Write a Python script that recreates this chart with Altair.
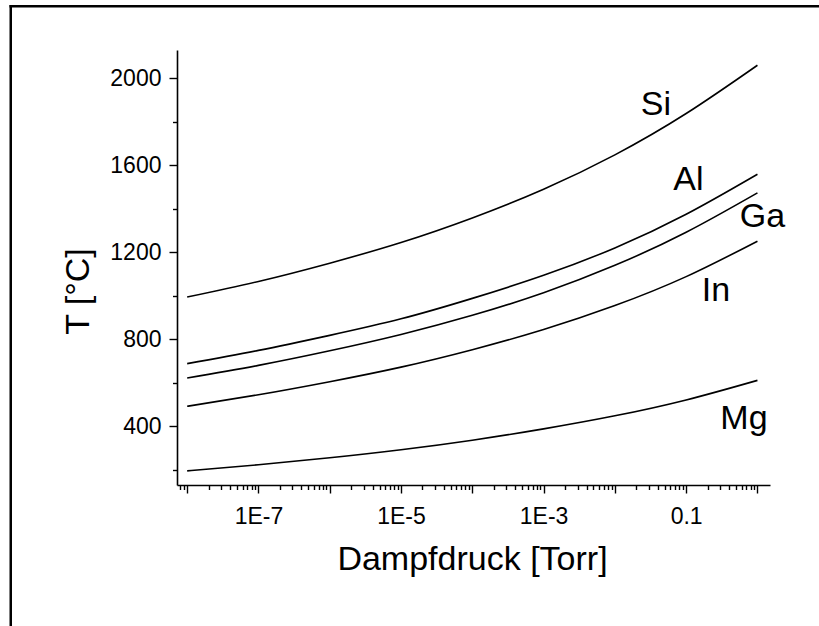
import altair as alt
import pandas as pd

# ---- data ----
pressure = [1e-8, 1e-7, 1e-6, 1e-5, 1e-4, 1e-3, 1e-2, 1e-1, 1.0]
t_si = [994, 1066, 1150, 1245, 1358, 1490, 1648, 1838, 2060]
t_al = [688, 749, 818, 894, 988, 1094, 1220, 1375, 1559]
t_ga = [622, 680, 747, 822, 910, 1014, 1140, 1292, 1473]
t_in = [492, 545, 605, 672, 752, 845, 955, 1088, 1251]
t_mg = [195, 223, 255, 292, 336, 388, 448, 521, 611]

elements = ["Si", "Al", "Ga", "In", "Mg"]
label_p = [0.0376, 0.1076, 1.175, 0.262, 0.647]
label_t = [1830, 1485, 1316, 977, 386]

x_domain = [7.2e-9, 1.5]
y_domain = [130, 2130]

x_ticks = sorted(set(
    [k * 10.0 ** e for e in range(-9, 1) for k in range(1, 10)]
))
x_ticks = [v for v in x_ticks if x_domain[0] <= v <= x_domain[1]]
y_ticks = list(range(200, 2001, 200))

# ---- tables ----
series = {"Si": t_si, "Al": t_al, "Ga": t_ga, "In": t_in, "Mg": t_mg}
rows = []
for name, temps in series.items():
    for p, t in zip(pressure, temps):
        rows.append({"element": name, "p": p, "T": t})
df = pd.DataFrame(rows)
labels_df = pd.DataFrame({"element": elements, "p": label_p, "T": label_t})
frame_df = pd.DataFrame({"k": [0]})

FONT = "Liberation Sans"
is_decade = "abs(log(datum.value)/LN10 - round(log(datum.value)/LN10)) < 0.001"
expo = "round(log(datum.value)/LN10)"

x_scale = alt.Scale(type="log", domain=x_domain, nice=False)
y_scale = alt.Scale(domain=y_domain, nice=False, zero=False)

common_axis = dict(
    labelOverlap=False,
    labelFlush=False,
    labelBound=False,
    labelFontSize=23,
    labelFont=FONT,
    labelColor="black",
    titleFont=FONT,
    titleFontSize=34,
    titleFontWeight="normal",
    titleColor="black",
    titleAlign="center",
    titleBaseline="alphabetic",
    grid=False,
    domainColor="black",
    domainWidth=1.6,
    tickColor="black",
    tickWidth=1.4,
)

x_axis = alt.Axis(
    title="Dampfdruck [Torr]",
    values=x_ticks,
    labelExpr=f"({is_decade}) && ({expo} % 2 != 0) ? ({expo} == -1 ? '0.1' : '1E' + {expo}) : ''",
    tickSize={"condition": {"test": is_decade, "value": 8}, "value": 4.5},
    labelPadding=12,
    titleX=295,
    titleY=84,
    **common_axis,
)

y_axis = alt.Axis(
    title="T [°C]",
    values=y_ticks,
    format="d",
    labelExpr="datum.value % 400 == 0 ? datum.label : ''",
    tickSize={"condition": {"test": "datum.value % 400 == 0", "value": 8}, "value": 4.5},
    labelPadding=8,
    titleX=-89,
    titleY=241,
    **common_axis,
)

lines = alt.Chart(df).mark_line(color="black", strokeWidth=1.6, interpolate="natural").encode(
    x=alt.X("p:Q", scale=x_scale, axis=x_axis),
    y=alt.Y("T:Q", scale=y_scale, axis=y_axis),
    detail="element:N",
)

texts = alt.Chart(labels_df).mark_text(
    font=FONT, fontSize=34, color="black", align="center", baseline="alphabetic"
).encode(
    x=alt.X("p:Q", scale=x_scale),
    y=alt.Y("T:Q", scale=y_scale),
    text="element:N",
)

# page frame: only its top and left edges fall inside the picture (thin filled bars)
frame_top = alt.Chart(frame_df).mark_rect(color="black", strokeWidth=0).encode(
    x=alt.value(-167.5), x2=alt.value(700), y=alt.value(-45), y2=alt.value(-42.5),
)
frame_left = alt.Chart(frame_df).mark_rect(color="black", strokeWidth=0).encode(
    x=alt.value(-167.5), x2=alt.value(-165), y=alt.value(-45), y2=alt.value(700),
)

chart = alt.layer(frame_top, frame_left, lines, texts).properties(
    width=593,
    height=435,
    padding={"left": 177, "top": 50, "right": 49, "bottom": 141},
    autosize=alt.AutoSizeParams(type="none"),
    background="white",
).configure_view(stroke=None)

chart.save("out.html", embed_options={"renderer": "svg", "actions": False})
